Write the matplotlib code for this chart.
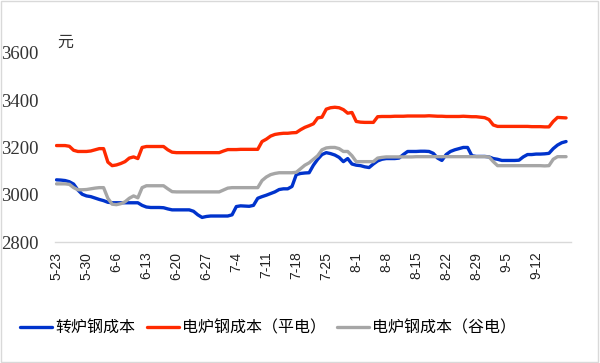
import matplotlib
matplotlib.use('Agg')
from matplotlib import pyplot as plt
from matplotlib.patches import Rectangle
import numpy as np
import pandas as pd

plt.rcParams['font.family'] = ['Noto Sans CJK SC', 'DejaVu Sans']

# 日期（每日）
dates = pd.date_range('2022-05-23', '2022-09-19', freq='D')

# 转炉钢成本
bof = [3063, 3062, 3060, 3055, 3045, 3020, 3002,
       2995, 2992, 2986, 2980, 2975, 2968, 2966,
       2966, 2966, 2966, 2966, 2966, 2966, 2955,
       2948, 2946, 2946, 2946, 2945, 2940, 2936,
       2936, 2936, 2936, 2936, 2930, 2915, 2904,
       2908, 2910, 2910, 2910, 2910, 2910, 2915,
       2950, 2953, 2952, 2951, 2955, 2985, 2992,
       2998, 3005, 3012, 3022, 3025, 3025, 3035,
       3085, 3090, 3092, 3093, 3125, 3150, 3170,
       3178, 3174, 3168, 3158, 3140, 3153, 3130,
       3125, 3123, 3118, 3115, 3130, 3143, 3150,
       3153, 3153, 3153, 3155, 3170, 3183, 3183,
       3183, 3184, 3184, 3183, 3175, 3155, 3145,
       3170, 3183, 3190, 3195, 3200, 3200, 3165,
       3162, 3162, 3162, 3160, 3153, 3150, 3145,
       3145, 3145, 3145, 3146, 3160, 3170, 3170,
       3172, 3172, 3173, 3175, 3195, 3210, 3220,
       3225]

# 电炉钢成本（平电）
eaf_flat = [3208, 3208, 3208, 3205, 3188, 3183, 3183,
            3183, 3185, 3190, 3195, 3195, 3138, 3123,
            3126, 3132, 3140, 3155, 3160, 3153, 3200,
            3204, 3204, 3204, 3204, 3204, 3190, 3180,
            3178, 3178, 3178, 3178, 3178, 3178, 3178,
            3178, 3178, 3178, 3178, 3185, 3191, 3191,
            3191, 3192, 3192, 3192, 3192, 3192, 3225,
            3235, 3248, 3255, 3258, 3260, 3260, 3262,
            3263, 3275, 3285, 3292, 3300, 3325, 3328,
            3362, 3368, 3370, 3368, 3360, 3345, 3348,
            3310, 3307, 3306, 3306, 3306, 3330, 3331,
            3331, 3331, 3332, 3332, 3332, 3333, 3333,
            3333, 3333, 3333, 3334, 3333, 3332, 3332,
            3331, 3331, 3331, 3331, 3332, 3331, 3330,
            3330, 3328, 3326, 3318, 3295, 3289, 3289,
            3289, 3289, 3289, 3289, 3289, 3289, 3288,
            3288, 3288, 3287, 3287, 3310, 3327, 3326,
            3325]

# 电炉钢成本（谷电）
eaf_valley = [3046, 3046, 3046, 3044, 3030, 3021, 3021,
              3022, 3025, 3028, 3030, 3030, 2985, 2960,
              2958, 2962, 2970, 2985, 2995, 2987, 3030,
              3038, 3038, 3038, 3038, 3038, 3025, 3013,
              3012, 3012, 3012, 3012, 3012, 3012, 3012,
              3012, 3012, 3012, 3012, 3020, 3028, 3030,
              3030, 3030, 3030, 3030, 3030, 3030, 3060,
              3075, 3085, 3090, 3093, 3093, 3093, 3093,
              3095, 3110, 3125, 3135, 3150, 3165, 3190,
              3198, 3200, 3200, 3195, 3183, 3183, 3165,
              3140, 3140, 3140, 3140, 3140, 3155, 3158,
              3160, 3160, 3160, 3160, 3160, 3160, 3160,
              3161, 3161, 3161, 3161, 3161, 3161, 3161,
              3161, 3161, 3161, 3161, 3161, 3161, 3161,
              3161, 3161, 3161, 3160, 3140, 3123, 3123,
              3123, 3123, 3123, 3123, 3123, 3123, 3123,
              3123, 3123, 3122, 3123, 3150, 3161, 3161,
              3161]

labels = ['转炉钢成本', '电炉钢成本（平电）', '电炉钢成本（谷电）']
colors = ['#0033cc', '#ff2a00', '#a6a6a6']
yticks = [2800, 3000, 3200, 3400, 3600]

fig = plt.figure(figsize=(6, 3.63), dpi=100)
ax = fig.add_axes([0.092, 0.3333, 0.86, 0.521])

for s, lab, c in zip([bof, eaf_flat, eaf_valley], labels, colors):
    ax.plot(dates, s, color=c, lw=2.4, label=lab, solid_capstyle='round')

ax.set_ylim(2800, 3600)
ax.set_xlim(dates[0] - pd.Timedelta(days=0.3), dates[-1] + pd.Timedelta(days=1.2))

ax.set_yticks(yticks)
ax.set_yticklabels([str(v) for v in yticks], family='Liberation Serif', fontsize=13.5, color='#333333')

xt = dates[::7][:17]
ax.set_xticks(xt)
ax.set_xticklabels([f'{d.month}-{d.day}' for d in xt], rotation=90,
                   family='Liberation Sans', fontsize=10, color='#222222')
ax.tick_params(axis='both', length=0)
ax.tick_params(axis='x', pad=7)
ax.tick_params(axis='y', pad=12)

for sp in ['top', 'right', 'left']:
    ax.spines[sp].set_visible(False)
ax.spines['bottom'].set_color('#d9d9d9')
ax.spines['bottom'].set_linewidth(1)

ax.text(0.005, 1.03, '元', transform=ax.transAxes, fontsize=11.5, color='#333333')

fig.legend(loc='center', bbox_to_anchor=(0.447, 0.096), ncol=3, frameon=False,
           fontsize=11.5, handlelength=2.0, handletextpad=0.2, columnspacing=0.7)

fig.patches.append(Rectangle((0.002, 0.003), 0.995, 0.994, transform=fig.transFigure,
                             fill=False, edgecolor='#d9d9d9', lw=1))

fig.savefig('out.png', dpi=100)
